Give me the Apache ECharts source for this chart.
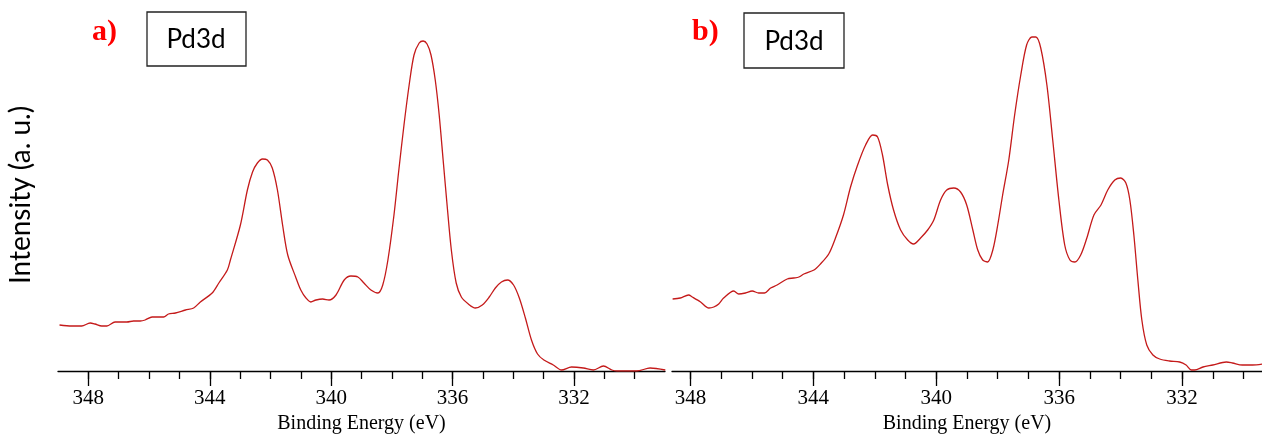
<!DOCTYPE html>
<html>
<head>
<meta charset="utf-8">
<script src="https://cdn.jsdelivr.net/npm/echarts@6/dist/echarts.min.js"></script>
<style>
  html, body { margin: 0; padding: 0; background: #fff; }
  #chart { width: 1262px; height: 435px; }
</style>
</head>
<body>
<div id="chart"></div>
<script>
// Pd 3d XPS spectra, two samples (a, b). Binding energy in eV, intensity in arbitrary units.
const energyA = [
  348.95, 348.55, 348.22, 347.94, 347.78, 347.56, 347.39, 347.12, 346.73, 346.51,
  346.29, 346.13, 345.90, 345.52, 345.36, 345.13, 344.80, 344.53, 344.31, 343.92,
  343.70, 343.42, 343.32, 342.99, 342.76, 342.59, 342.43, 342.26, 342.10, 341.94,
  341.77, 341.60, 341.43, 341.17, 341.00, 340.83, 340.67, 340.50, 340.28, 340.07,
  339.84, 339.57, 339.35, 339.12, 338.92, 338.69, 338.46, 338.30, 338.13, 337.93,
  337.77, 337.60, 337.43, 337.27, 337.10, 336.97, 336.84, 336.71, 336.57, 336.44,
  336.31, 336.18, 336.04, 335.88, 335.71, 335.48, 335.25, 335.02, 334.79, 334.59,
  334.39, 334.19, 333.99, 333.80, 333.60, 333.40, 333.20, 332.99, 332.68, 332.41,
  332.08, 331.69, 331.36, 331.03, 330.75, 330.59, 329.93, 329.49, 328.99
];
const intensityA = [
  46, 45, 45, 48, 47, 45, 45, 49, 49, 50,
  50, 51, 54, 54, 57, 58, 61, 63, 69, 78,
  88, 101, 111, 146, 181, 199, 208, 212, 211, 203,
  181, 146, 116, 94, 81, 73, 69, 71, 72, 71,
  76, 91, 95, 94, 88, 81, 78, 86, 111, 156,
  201, 246, 286, 316, 328, 330, 327, 316, 291, 256,
  211, 166, 121, 88, 74, 67, 63, 66, 74, 83,
  89, 91, 86, 73, 53, 31, 17, 11, 6, 1,
  4, 3, 1, 5, 1, 0, 0, 3, 1
];

const energyB = [
  348.58, 348.33, 348.06, 347.94, 347.67, 347.40, 347.24, 347.08, 346.92, 346.59,
  346.43, 346.21, 345.99, 345.78, 345.59, 345.39, 345.18, 344.85, 344.64, 344.47,
  344.31, 343.98, 343.77, 343.50, 343.28, 343.02, 342.79, 342.56, 342.30, 342.07,
  341.91, 341.75, 341.58, 341.39, 341.16, 340.93, 340.74, 340.51, 340.28, 340.08,
  339.86, 339.66, 339.43, 339.21, 339.01, 338.81, 338.65, 338.49, 338.33, 338.16,
  338.00, 337.84, 337.64, 337.45, 337.25, 337.06, 336.89, 336.76, 336.60, 336.40,
  336.21, 336.01, 335.82, 335.65, 335.49, 335.30, 335.10, 334.87, 334.64, 334.42,
  334.19, 334.00, 333.83, 333.70, 333.57, 333.44, 333.31, 333.15, 332.95, 332.73,
  332.41, 332.08, 331.87, 331.70, 331.59, 331.32, 331.00, 330.56, 330.36, 330.04,
  329.71, 329.37
];
const intensityB = [
  72, 73, 76, 74, 69, 63, 64, 67, 73, 80,
  77, 78, 80, 78, 78, 83, 86, 92, 93, 94,
  97, 101, 107, 117, 133, 156, 184, 206, 226, 236,
  234, 216, 186, 161, 141, 131, 127, 133, 141, 151,
  171, 181, 183, 179, 166, 141, 121, 111, 109, 121,
  146, 176, 211, 256, 296, 326, 334, 334, 323, 286,
  231, 171, 126, 111, 109, 116, 133, 156, 166, 181,
  191, 193, 188, 171, 136, 91, 51, 26, 16, 12,
  10, 9, 6, 1, 1, 4, 6, 9, 8, 6,
  6, 7
];

// Axis ticks (eV)
const majorTicks = [348, 344, 340, 336, 332];
const minorTicks = [330, 331, 332, 333, 334, 335, 336, 337, 338, 339, 340,
                    341, 342, 343, 344, 345, 346, 347, 348];

const panelLabels = ['a)', 'b)'];
const regionLabel = 'Pd3d';
const xTitle = 'Binding Energy (eV)';
const yTitle = 'Intensity (a. u.)';

const LINE_COLOR = '#c41a1a';
const SERIF = '"Liberation Serif", "Times New Roman", serif';
const SANS = 'Lato, "Open Sans", sans-serif';

function zip(xs, ys) { return xs.map((x, i) => [x, ys[i]]); }

function majorAxis(gridIndex, min, max) {
  return {
    type: 'value', gridIndex, min, max, inverse: true, position: 'bottom',
    name: xTitle, nameLocation: 'middle', nameGap: 41,
    nameTextStyle: { fontFamily: SERIF, fontSize: 20, color: '#000' },
    axisLine: { show: true, onZero: false, lineStyle: { color: '#000', width: 1.3 } },
    axisTick: { show: true, customValues: majorTicks, length: 15, lineStyle: { color: '#000', width: 1.3 } },
    axisLabel: { show: true, customValues: majorTicks, margin: 17, fontFamily: SERIF, fontSize: 21, color: '#000' },
    splitLine: { show: false }
  };
}
function minorAxis(gridIndex, min, max) {
  return {
    type: 'value', gridIndex, min, max, inverse: true, position: 'bottom',
    axisLine: { show: false, onZero: false },
    axisTick: { show: true, customValues: minorTicks, length: 8, lineStyle: { color: '#000', width: 1.3 } },
    axisLabel: { show: false },
    splitLine: { show: false }
  };
}
function hiddenY(gridIndex) {
  return {
    type: 'value', gridIndex, min: 0, max: 341,
    axisLine: { show: false }, axisTick: { show: false },
    axisLabel: { show: false }, splitLine: { show: false }
  };
}
function panelBox(cx, top, left, w, h, label, lx, ly) {
  return [
    { type: 'text', left: lx, top: ly,
      style: { text: label, fill: '#ff0000', font: 'bold 30px ' + SERIF } },
    { type: 'rect', shape: { x: left, y: top, width: w, height: h },
      style: { fill: '#fff', stroke: '#222', lineWidth: 1.3 } },
    { type: 'text', x: cx, y: top + h / 2 + 1,
      style: { text: regionLabel, fill: '#000', font: '26px ' + SANS, align: 'center', verticalAlign: 'middle' } }
  ];
}

const chart = echarts.init(document.getElementById('chart'), null, { renderer: 'canvas' });
chart.setOption({
  animation: false,
  backgroundColor: '#fff',
  grid: [
    { left: 58, width: 607, top: 30, bottom: 64, containLabel: false, outerBoundsMode: 'none' },
    { left: 672, right: 0, top: 30, bottom: 64, containLabel: false, outerBoundsMode: 'none' }
  ],
  xAxis: [
    majorAxis(0, 329, 349), minorAxis(0, 329, 349),
    majorAxis(1, 329.4, 348.6), minorAxis(1, 329.4, 348.6)
  ],
  yAxis: [hiddenY(0), hiddenY(1)],
  series: [
    { type: 'line', xAxisIndex: 0, yAxisIndex: 0, data: zip(energyA, intensityA),
      showSymbol: false, smooth: 0.3, lineStyle: { color: LINE_COLOR, width: 1.3 } },
    { type: 'line', xAxisIndex: 2, yAxisIndex: 1, data: zip(energyB, intensityB),
      showSymbol: false, smooth: 0.3, lineStyle: { color: LINE_COLOR, width: 1.3 } }
  ],
  graphic: [
    { type: 'text', x: 21, y: 195, rotation: Math.PI / 2,
      style: { text: yTitle, fill: '#000', font: '28px ' + SANS, align: 'center', verticalAlign: 'middle' } },
    ...panelBox(196, 12, 147, 99, 54, panelLabels[0], 92, 17),
    ...panelBox(794, 13, 744, 100, 55, panelLabels[1], 692, 17)
  ]
});
</script>
</body>
</html>
